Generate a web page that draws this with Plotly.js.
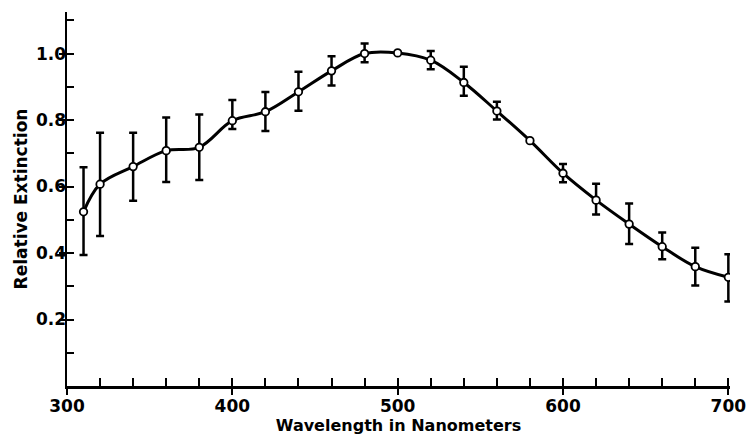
<!DOCTYPE html>
<html>
<head>
<meta charset="utf-8">
<script src="https://cdn.plot.ly/plotly-3.0.1.min.js"></script>
<style>html,body{margin:0;padding:0;background:#fff;}#chart{width:748px;height:441px;}</style>
</head>
<body>
<div id="chart"></div>
<script>
// Wavelength (nm)
const wavelength = [310, 320, 340, 360, 380, 400, 420, 440, 460, 480, 500, 520, 540, 560, 580, 600, 620, 640, 660, 680, 700];
// Relative extinction
const extinction = [0.524, 0.607, 0.660, 0.708, 0.718, 0.798, 0.825, 0.885, 0.948, 1.000, 1.002, 0.980, 0.913, 0.827, 0.738, 0.640, 0.559, 0.487, 0.419, 0.359, 0.327];
// Error bar upper / lower ends
const errTop = [0.658, 0.762, 0.762, 0.808, 0.817, 0.860, 0.884, 0.945, 0.992, 1.030, null, 1.008, 0.960, 0.855, null, 0.668, 0.608, 0.549, 0.462, 0.416, 0.396];
const errBottom = [0.394, 0.451, 0.557, 0.614, 0.620, 0.773, 0.767, 0.828, 0.904, 0.974, null, 0.953, 0.873, 0.802, null, 0.613, 0.516, 0.427, 0.381, 0.302, 0.254];
const yTickVals = [0.2, 0.4, 0.6, 0.8, 1.0];
const yTickText = ['0.2', '0.4', '0.6', '0.8', '1.0'];
const xTickVals = [300, 400, 500, 600, 700];

const plus = extinction.map((v, i) => errTop[i] === null ? 0 : errTop[i] - v);
const minus = extinction.map((v, i) => errBottom[i] === null ? 0 : v - errBottom[i]);
const showErr = errTop.map(v => v !== null);

const traces = [
  {
    x: wavelength, y: extinction, type: 'scatter', mode: 'lines',
    line: {shape: 'spline', smoothing: 1.0, color: '#000', width: 3},
    hoverinfo: 'skip'
  },
  {
    x: wavelength.filter((_, i) => showErr[i]),
    y: extinction.filter((_, i) => showErr[i]),
    type: 'scatter', mode: 'markers',
    marker: {size: 0.1, color: 'rgba(0,0,0,0)'},
    error_y: {type: 'data', symmetric: false,
      array: plus.filter((_, i) => showErr[i]),
      arrayminus: minus.filter((_, i) => showErr[i]),
      color: '#000', thickness: 2.5, width: 4}
  },
  {
    x: wavelength, y: extinction, type: 'scatter', mode: 'markers',
    marker: {symbol: 'circle', size: 7.5, color: '#fff', line: {color: '#000', width: 1.8}}
  }
];

const tickFont = {family: 'DejaVu Sans, sans-serif', size: 17, color: '#000', weight: 'bold'};
const titleFont = {family: 'DejaVu Sans, sans-serif', color: '#000', weight: 'bold'};
const layout = {
  width: 748, height: 441,
  margin: {l: 67, r: 18, t: 12, b: 55},
  paper_bgcolor: '#fff', plot_bgcolor: '#fff',
  showlegend: false,
  xaxis: {
    range: [300, 701], showgrid: false, zeroline: false, automargin: false,
    showline: true, linecolor: '#000', linewidth: 2.5,
    tickmode: 'array', tickvals: xTickVals, ticks: 'outside', ticklen: 6, tickwidth: 2, tickcolor: '#000',
    tickfont: tickFont, ticklabelstandoff: -3,
    title: {text: 'Wavelength in Nanometers', font: Object.assign({size: 16}, titleFont), standoff: 2}
  },
  yaxis: {
    range: [0, 1.125], showgrid: false, zeroline: false, automargin: false,
    showline: true, linecolor: '#000', linewidth: 2.5,
    tickmode: 'array', tickvals: yTickVals, ticktext: yTickText, ticks: 'outside', ticklen: 6, tickwidth: 2, tickcolor: '#000',
    tickfont: tickFont, ticklabelstandoff: -11,
    title: {text: 'Relative Extinction', font: Object.assign({size: 17}, titleFont), standoff: 4}
  },
  xaxis2: {
    overlaying: 'x', anchor: 'y', side: 'bottom', range: [300, 701],
    showgrid: false, zeroline: false, showline: false, showticklabels: false,
    tickmode: 'linear', tick0: 300, dtick: 20, ticks: 'inside', ticklen: 8, tickwidth: 2, tickcolor: '#000'
  },
  yaxis2: {
    overlaying: 'y', anchor: 'x', side: 'left', range: [0, 1.125],
    showgrid: false, zeroline: false, showline: false, showticklabels: false,
    tickmode: 'linear', tick0: 0, dtick: 0.1, ticks: 'inside', ticklen: 7, tickwidth: 2, tickcolor: '#000'
  }
};

// invisible trace anchoring the overlay tick axes
traces.push({x: [300], y: [0], xaxis: 'x2', yaxis: 'y2', type: 'scatter', mode: 'markers', marker: {opacity: 0}, hoverinfo: 'skip'});

Plotly.newPlot('chart', traces, layout, {displayModeBar: false, staticPlot: true});
</script>
</body>
</html>
